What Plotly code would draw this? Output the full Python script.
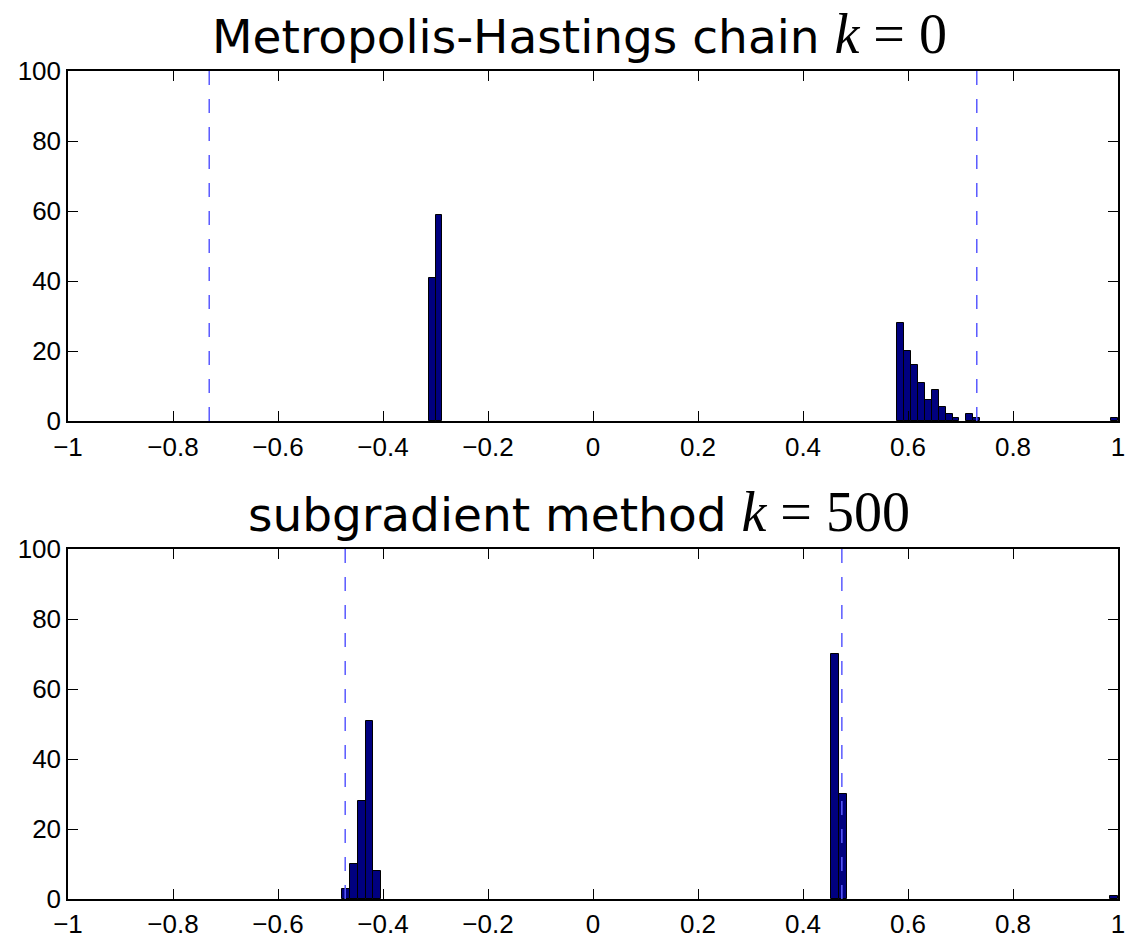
import plotly.graph_objects as go

# ---- data ----
n_bins = 100
top_range = [-0.313, 1.0]
top_bins = [0, 1, 68, 69, 70, 71, 72, 73, 74, 75, 76, 78, 79, 99]
top_counts = [41, 59, 28, 20, 16, 11, 6, 9, 4, 2, 1, 2, 1, 1]
top_lines = [-0.731, 0.731]

bot_range = [-0.4775, 1.0]
bot_bins = [0, 1, 2, 3, 4, 63, 64, 99]
bot_counts = [3, 10, 28, 51, 8, 70, 30, 1]
bot_lines = [-0.472, 0.474]

titles = ["Metropolis-Hastings chain", "subgradient method"]
title_k = ["0", "500"]
x_ticks = [-1, -0.8, -0.6, -0.4, -0.2, 0, 0.2, 0.4, 0.6, 0.8, 1]
x_ticktext = ["\u22121", "\u22120.8", "\u22120.6", "\u22120.4", "\u22120.2", "0", "0.2", "0.4", "0.6", "0.8", "1"]
y_ticks = [0, 20, 40, 60, 80, 100]

W, H = 1126, 938
ml, mr, mt, mb = 68, 8, 71, 39
ph = H - mt - mb
top_dom = [(899 - 421) / ph, 1.0]
bot_dom = [0.0, (899 - 549) / ph]

fig = go.Figure()

def add_hist(rng, bins, counts, lines, xa, ya):
    w = (rng[1] - rng[0]) / n_bins
    centers = [rng[0] + (b + 0.5) * w for b in bins]
    fig.add_trace(go.Bar(x=centers, y=counts, width=w, xaxis=xa, yaxis=ya,
                         marker=dict(color="#00007f", line=dict(color="black", width=1)),
                         showlegend=False, hoverinfo="skip"))
    for v in lines:
        fig.add_trace(go.Scatter(x=[v, v], y=[0, 100], mode="lines", xaxis=xa, yaxis=ya,
                                 line=dict(color="rgb(90,90,255)", width=1.5, dash="14px,14px"),
                                 showlegend=False, hoverinfo="skip"))

add_hist(top_range, top_bins, top_counts, top_lines, "x", "y")
add_hist(bot_range, bot_bins, bot_counts, bot_lines, "x2", "y2")

axis_common = dict(showline=True, linecolor="black", linewidth=1.5, mirror="ticks",
                   ticks="inside", ticklen=10, tickcolor="black", tickwidth=1,
                   showgrid=False, zeroline=False, automargin=False,
                   tickfont=dict(family="Liberation Sans, Arial, sans-serif", size=26, color="black"))

fig.update_layout(
    width=W, height=H, autosize=False,
    margin=dict(l=ml, r=mr, t=mt, b=mb, autoexpand=False),
    plot_bgcolor="white", paper_bgcolor="white",
    xaxis=dict(domain=[0, 1], anchor="y", range=[-1, 1], tickvals=x_ticks, ticktext=x_ticktext,
               ticklabelstandoff=2, **axis_common),
    yaxis=dict(domain=top_dom, anchor="x", range=[0, 100], tickvals=y_ticks, **axis_common),
    xaxis2=dict(domain=[0, 1], anchor="y2", range=[-1, 1], tickvals=x_ticks, ticktext=x_ticktext,
                ticklabelstandoff=1, **axis_common),
    yaxis2=dict(domain=bot_dom, anchor="x2", range=[0, 100], tickvals=y_ticks, **axis_common),
    bargap=0,
)

for i, (t, k) in enumerate(zip(titles, title_k)):
    yref = "y domain" if i == 0 else "y2 domain"
    xref = "x domain" if i == 0 else "x2 domain"
    fig.add_annotation(
        x=0.5, y=1, xref=xref, yref=yref, xanchor="center", yanchor="bottom", yshift=4, xshift=-14,
        showarrow=False,
        text=(f"{t} <span style='font-family:\"Liberation Serif\", serif; font-size:56px'>"
              f"<i>k</i> = {k}</span>"),
        font=dict(family="DejaVu Sans, sans-serif", size=47, color="black"),
    )

fig.write_html("out.html", config={"displayModeBar": False, "responsive": False},
               post_script="document.body.style.margin='0';document.body.style.overflow='hidden';")
